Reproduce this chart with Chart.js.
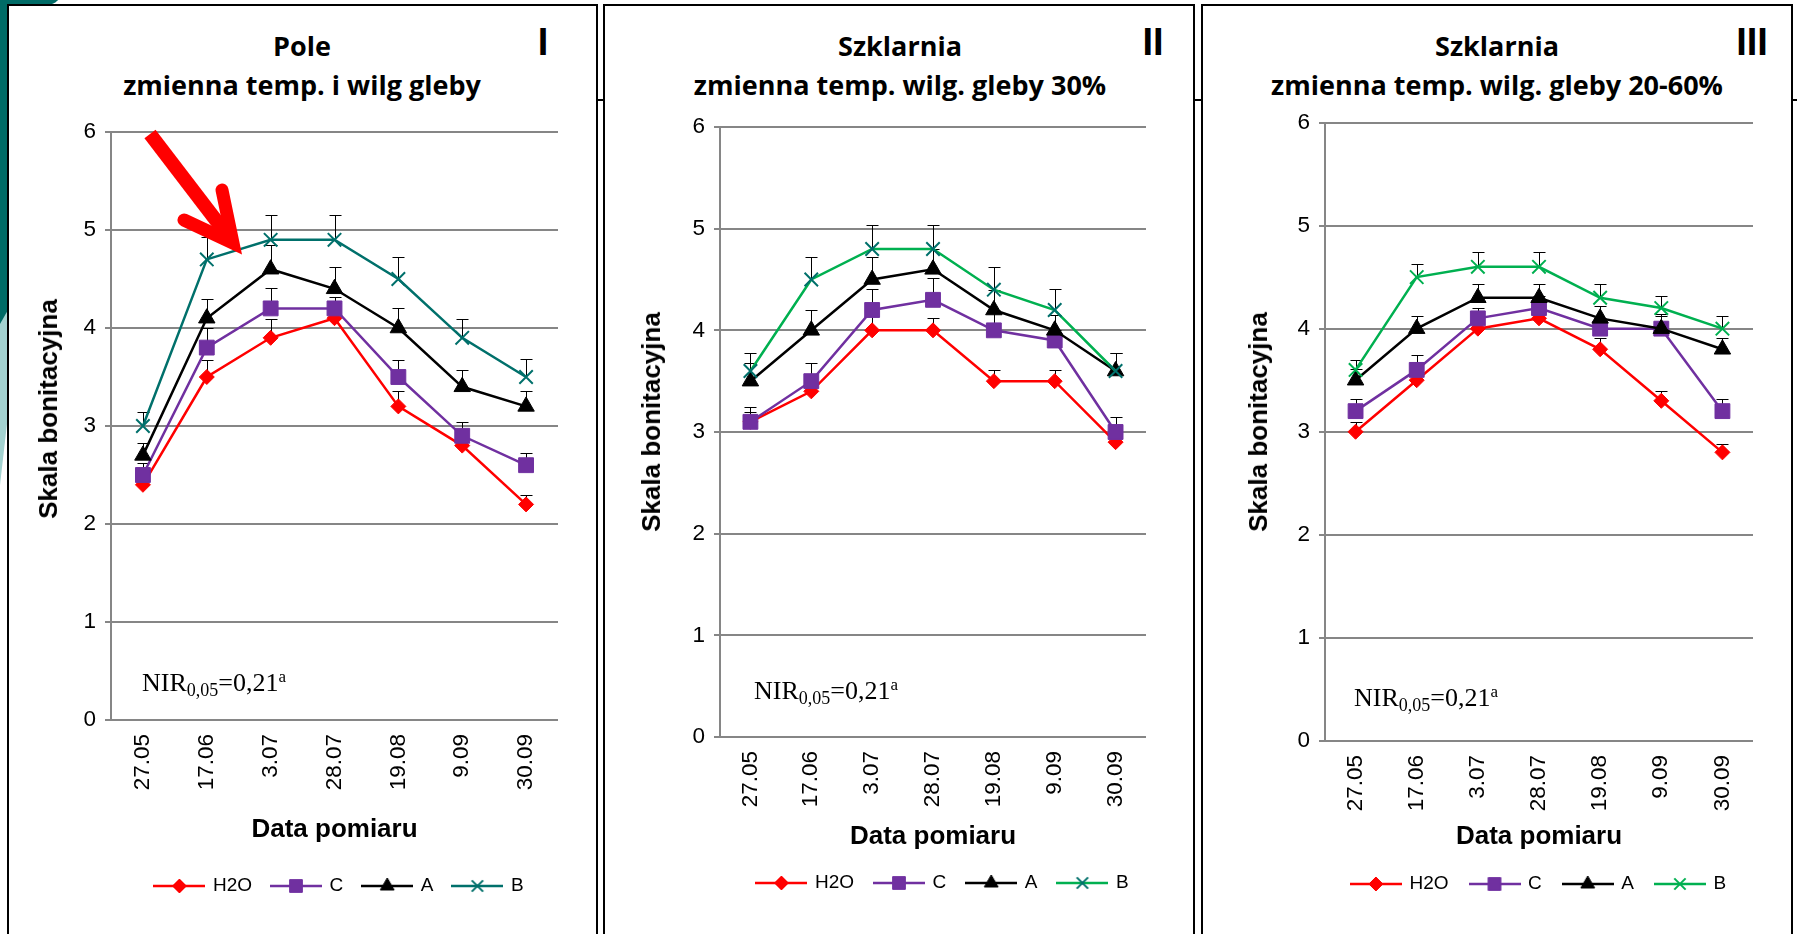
<!DOCTYPE html>
<html><head><meta charset="utf-8">
<script src="https://cdn.jsdelivr.net/npm/chart.js@4.4.1/dist/chart.umd.min.js"></script>
<style>
html,body{margin:0;padding:0;background:#fff;}
body{width:1797px;height:934px;position:relative;overflow:hidden;font-family:"Liberation Sans",Arial,sans-serif;color:#000;}
.panel{position:absolute;top:4px;height:980px;border:2px solid #000;box-sizing:border-box;background:#fff;}
.cv{position:absolute;}
.t{position:absolute;transform:translateX(-50%);white-space:nowrap;font-family:"Open Sans",sans-serif;font-weight:700;font-size:27px;line-height:39px;text-align:center;}
.num{position:absolute;transform:translateX(-50%);font-family:"Liberation Sans",sans-serif;font-weight:700;font-size:38px;line-height:42px;white-space:nowrap;}
.ytitle{position:absolute;transform:translate(-50%,-50%) rotate(-90deg);font-weight:700;font-size:26px;white-space:nowrap;line-height:1;}
.nir{position:absolute;font-family:"Liberation Serif",serif;font-size:26px;line-height:30px;white-space:nowrap;}
.nir .sub{font-size:18px;position:relative;top:5px;}
.nir .sup{font-size:17px;position:relative;top:-9px;}
</style></head>
<body>
<div style="position:absolute;left:597px;top:99px;width:1200px;height:2px;background:#000"></div>
<div style="position:absolute;left:0;top:0;width:8px;height:325px;background:#006B66"></div>
<div style="position:absolute;left:0;top:-10px;width:62px;height:15px;background:#006B66;border-radius:0 0 30px 0"></div>
<div style="position:absolute;left:0;top:310px;width:8px;height:175px;background:#A3D2D0;clip-path:polygon(0 8%,100% 0,100% 60%,0 100%)"></div>

<div class="panel" style="left:7px;width:591px"></div>
<div class="panel" style="left:603px;width:592px"></div>
<div class="panel" style="left:1201px;width:592px"></div>

<div class="t" style="left:302px;top:26px">Pole<br>zmienna temp. i wilg gleby</div>
<div class="t" style="left:900px;top:26px">Szklarnia<br>zmienna temp. wilg. gleby 30%</div>
<div class="t" style="left:1497px;top:26px">Szklarnia<br>zmienna temp. wilg. gleby 20-60%</div>
<div class="num" style="left:543px;top:21px">I</div>
<div class="num" style="left:1153px;top:21px">II</div>
<div class="num" style="left:1752px;top:21px">III</div>

<canvas id="c1" class="cv"></canvas>
<canvas id="c2" class="cv"></canvas>
<canvas id="c3" class="cv"></canvas>

<div class="ytitle" style="left:48px;top:409px">Skala bonitacyjna</div>
<div class="ytitle" style="left:651px;top:422px">Skala bonitacyjna</div>
<div class="ytitle" style="left:1258px;top:422px">Skala bonitacyjna</div>

<div class="nir" style="left:142px;top:668px">NIR<span class="sub">0,05</span>=0,21<span class="sup">a</span></div>
<div class="nir" style="left:754px;top:676px">NIR<span class="sub">0,05</span>=0,21<span class="sup">a</span></div>
<div class="nir" style="left:1354px;top:683px">NIR<span class="sub">0,05</span>=0,21<span class="sup">a</span></div>

<svg style="position:absolute;left:0;top:0;pointer-events:none" width="1797" height="934">
<line x1="150" y1="134" x2="228" y2="236" stroke="#FF0000" stroke-width="14"/>
<polyline points="222,190 233,243 184,220" fill="none" stroke="#FF0000" stroke-width="13" stroke-linecap="round" stroke-linejoin="miter"/>
</svg>

<script>
// ---------- data ----------
const categories = ["27.05","17.06","3.07","28.07","19.08","9.09","30.09"];
const seriesNames = ["H2O","C","A","B"];
const yMin = 0, yMax = 6, yStep = 1;

// Panel I – Pole
const p1_H2O = [2.4,3.5,3.9,4.1,3.2,2.8,2.2];
const p1_C   = [2.5,3.8,4.2,4.2,3.5,2.9,2.6];
const p1_A   = [2.7,4.1,4.6,4.4,4.0,3.4,3.2];
const p1_B   = [3.0,4.7,4.9,4.9,4.5,3.9,3.5];
const p1_H2O_err = [0.10,0.17,0.19,0.15,0.16,0.10,0.10];
const p1_C_err   = [0.12,0.20,0.21,0.12,0.17,0.14,0.12];
const p1_A_err   = [0.13,0.20,0.25,0.22,0.20,0.17,0.16];
const p1_B_err   = [0.14,0.23,0.25,0.25,0.22,0.19,0.18];

// Panel II – Szklarnia 30%
const p2_H2O = [3.1,3.4,4.0,4.0,3.5,3.5,2.9];
const p2_C   = [3.1,3.5,4.2,4.3,4.0,3.9,3.0];
const p2_A   = [3.5,4.0,4.5,4.6,4.2,4.0,3.6];
const p2_B   = [3.6,4.5,4.8,4.8,4.4,4.2,3.6];
const p2_H2O_err = [0.10,0.10,0.15,0.12,0.11,0.11,0.10];
const p2_C_err   = [0.15,0.18,0.21,0.21,0.20,0.10,0.15];
const p2_A_err   = [0.18,0.20,0.22,0.20,0.20,0.15,0.18];
const p2_B_err   = [0.18,0.22,0.24,0.24,0.22,0.21,0.18];

// Panel III – Szklarnia 20-60%
const p3_H2O = [3.0,3.5,4.0,4.1,3.8,3.3,2.8];
const p3_C   = [3.2,3.6,4.1,4.2,4.0,4.0,3.2];
const p3_A   = [3.5,4.0,4.3,4.3,4.1,4.0,3.8];
const p3_B   = [3.6,4.5,4.6,4.6,4.3,4.2,4.0];
const p3_H2O_err = [0.09,0.10,0.10,0.10,0.11,0.10,0.08];
const p3_C_err   = [0.12,0.14,0.10,0.12,0.10,0.12,0.12];
const p3_A_err   = [0.11,0.12,0.13,0.13,0.12,0.14,0.11];
const p3_B_err   = [0.10,0.13,0.14,0.14,0.13,0.12,0.12];

// ---------- styles ----------
const RED = "#FF0000", PURPLE = "#7030A0", BLACK = "#000000", TEAL = "#00706B", GREEN = "#00B050";
const GRID = "#868686";
const FONT = "'Liberation Sans', Arial, sans-serif";
const TICK_FS = 22.5;

const panels = [
  {id:"c1", data:[p1_H2O,p1_C,p1_A,p1_B], err:[p1_H2O_err,p1_C_err,p1_A_err,p1_B_err], bLine:TEAL, bMark:TEAL,
   left:10, top:100, width:586, height:834, axisL:111, axisR:558, y6:132, y0:720, xTitleY:830, legendY:886, legPad:20, legShift:5},
  {id:"c2", data:[p2_H2O,p2_C,p2_A,p2_B], err:[p2_H2O_err,p2_C_err,p2_A_err,p2_B_err], bLine:GREEN, bMark:TEAL,
   left:606, top:100, width:587, height:834, axisL:720, axisR:1146, y6:127, y0:737, xTitleY:838, legendY:883, legPad:21, legShift:10},
  {id:"c3", data:[p3_H2O,p3_C,p3_A,p3_B], err:[p3_H2O_err,p3_C_err,p3_A_err,p3_B_err], bLine:GREEN, bMark:GREEN,
   left:1204, top:100, width:587, height:834, axisL:1325, axisR:1753, y6:121, y0:741, xTitleY:837, legendY:884, legPad:22, legShift:0}
];

const errorBarPlugin = {
  id: "errorBars",
  beforeDatasetsDraw(chart) {
    const ctx = chart.ctx, ys = chart.scales.y, cap = 6;
    ctx.save();
    ctx.strokeStyle = "#000"; ctx.lineWidth = 1;
    chart.data.datasets.forEach((ds, di) => {
      if (!ds.errors) return;
      const meta = chart.getDatasetMeta(di);
      meta.data.forEach((pt, i) => {
        const x = Math.round(pt.x) + 0.5;
        const yv = ys.getPixelForValue(ds.data[i]);
        const yt = Math.round(ys.getPixelForValue(ds.data[i] + ds.errors[i])) + 0.5;
        ctx.beginPath();
        ctx.moveTo(x, yv); ctx.lineTo(x, yt);
        ctx.moveTo(x - cap, yt); ctx.lineTo(x + cap, yt);
        ctx.stroke();
      });
    });
    ctx.restore();
  }
};

const legendShiftPlugin = {
  id: "legendShift",
  afterLayout(chart, args, opts) {
    const lg = chart.legend;
    if (lg && opts && opts.dx) { lg.left += opts.dx; lg.right += opts.dx; }
  }
};

function legendImage(ds) {
  const c = document.createElement("canvas");
  c.width = 52; c.height = 24;
  const g = c.getContext("2d");
  g.strokeStyle = ds.borderColor; g.lineWidth = 2.5;
  g.beginPath(); g.moveTo(0, 12); g.lineTo(52, 12); g.stroke();
  g.fillStyle = ds.pointBackgroundColor; g.strokeStyle = ds.pointBorderColor; g.lineWidth = ds.pointBorderWidth;
  const r = ds.legendRadius;
  if (Chart.helpers && Chart.helpers.drawPoint) {
    Chart.helpers.drawPoint(g, {pointStyle: ds.pointStyle, radius: r, rotation: 0, borderWidth: ds.pointBorderWidth}, 26, 12);
  }
  return c;
}

const markerStyles = [
  {pointStyle:"rectRot", pointRadius:7.5, legendRadius:7, pointBorderWidth:1},
  {pointStyle:"rect", pointRadius:10.5, legendRadius:9, pointBorderWidth:1},
  {pointStyle:"triangle", pointRadius:9.5, legendRadius:8, pointBorderWidth:1},
  {pointStyle:"crossRot", pointRadius:9.5, legendRadius:8, pointBorderWidth:2}
];

const LEG_FS = 19, XT_FS = 26, XT_LH = XT_FS * 1.2;

panels.forEach(p => {
  const cv = document.getElementById(p.id);
  cv.width = p.width; cv.height = p.height;
  cv.style.left = p.left + "px"; cv.style.top = p.top + "px";
  cv.style.width = p.width + "px"; cv.style.height = p.height + "px";

  const LEG_PAD = p.legPad;
  const padTop = p.y6 - p.top;
  const padRight = (p.left + p.width) - p.axisR;
  const yAxisW = p.axisL - p.left;
  const xAxisH = p.legendY - (LEG_PAD + LEG_FS / 2) - p.y0;
  const titlePadBottom = Math.max(0, p.y0 + xAxisH - XT_LH / 2 - p.xTitleY);
  const legendH = LEG_FS + LEG_PAD + 10;
  const padBottom = (p.top + p.height) - (p.y0 + xAxisH + legendH);

  const colors = [
    {line:RED, mark:RED},
    {line:PURPLE, mark:PURPLE},
    {line:BLACK, mark:BLACK},
    {line:p.bLine, mark:p.bMark}
  ];
  const datasets = seriesNames.map((name, i) => Object.assign({
    label: name,
    data: p.data[i],
    errors: p.err[i],
    borderColor: colors[i].line,
    backgroundColor: colors[i].mark,
    pointBackgroundColor: colors[i].mark,
    pointBorderColor: colors[i].mark,
    borderWidth: 2.5,
    tension: 0,
    fill: false,
    order: 3 - i
  }, markerStyles[i]));

  new Chart(cv, {
    type: "line",
    data: { labels: categories, datasets },
    plugins: [errorBarPlugin, legendShiftPlugin],
    options: {
      responsive: false,
      animation: false,
      devicePixelRatio: 1,
      layout: { padding: { top: padTop, right: padRight, bottom: padBottom, left: 0 } },
      plugins: {
        legendShift: { dx: p.legShift },
        title: { display: false },
        tooltip: { enabled: false },
        legend: {
          display: true,
          position: "bottom",
          fullSize: false,
          labels: {
            usePointStyle: true,
            pointStyleWidth: 48,
            padding: LEG_PAD,
            color: "#000",
            font: { family: FONT, size: LEG_FS },
            generateLabels(chart) {
              return chart.data.datasets.map((ds, i) => ({
                text: ds.label,
                pointStyle: legendImage(ds),
                datasetIndex: i,
                hidden: false,
                fontColor: "#000",
                lineWidth: 0,
                fillStyle: ds.backgroundColor,
                strokeStyle: ds.borderColor
              }));
            }
          }
        }
      },
      scales: {
        x: {
          type: "category",
          offset: true,
          grid: { display: false, drawTicks: false },
          border: { display: false },
          ticks: { color: "#000", font: { family: FONT, size: TICK_FS }, minRotation: 90, maxRotation: 90, padding: 14, autoSkip: false },
          title: { display: true, text: "Data pomiaru", color: "#000", font: { family: FONT, size: XT_FS, weight: "bold" }, padding: { top: 0, bottom: titlePadBottom } },
          afterFit(s) { s.height = xAxisH; }
        },
        y: {
          min: yMin, max: yMax,
          ticks: { stepSize: yStep, color: "#000", font: { family: FONT, size: TICK_FS }, padding: 9 },
          grid: { color: GRID, lineWidth: 2, drawTicks: true, tickLength: 6, tickColor: GRID },
          border: { display: true, color: GRID, width: 2 },
          afterFit(s) { s.width = yAxisW; }
        }
      }
    }
  });
});
</script>
</body></html>
